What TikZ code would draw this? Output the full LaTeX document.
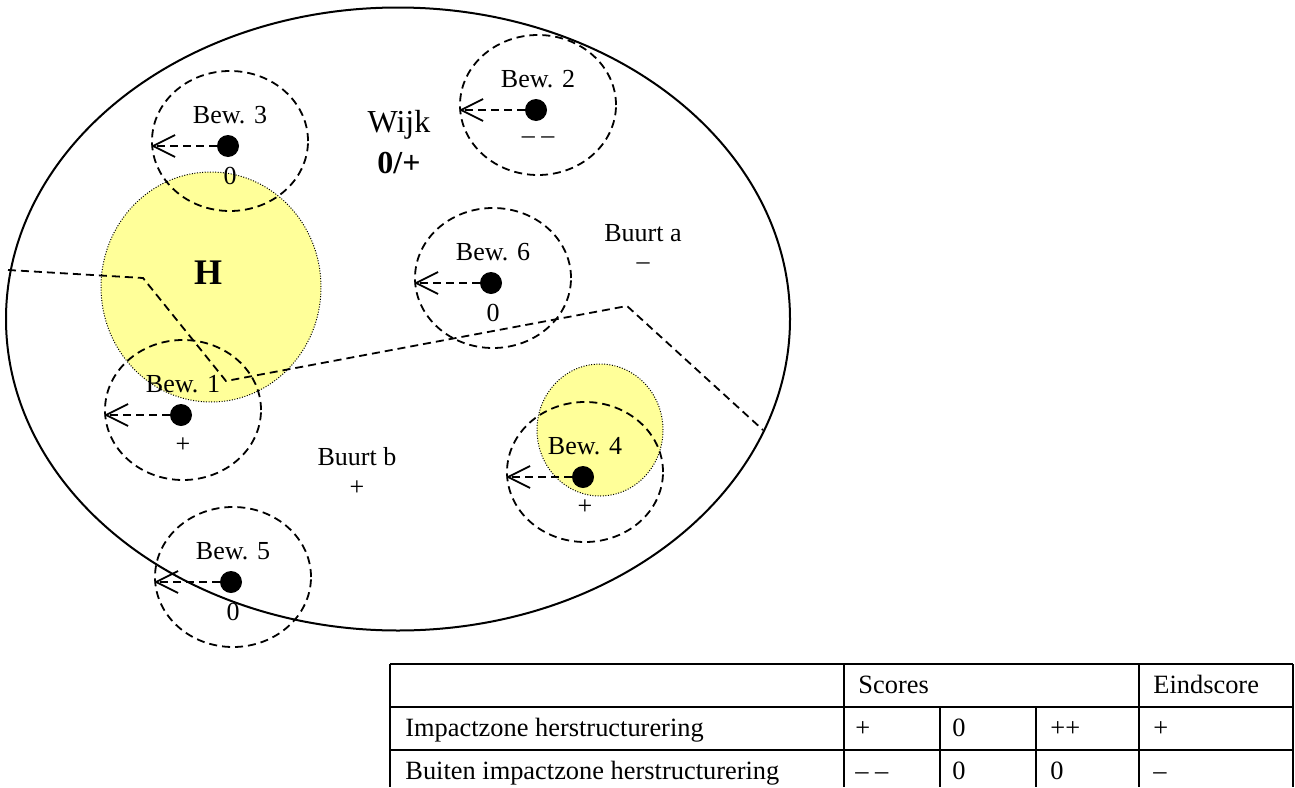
\documentclass[tikz,border=0pt]{standalone}
\usepackage{fontspec}
\setmainfont{Liberation Serif}
\usetikzlibrary{shapes.geometric,arrows.meta}
\definecolor{hotyellow}{RGB}{255,255,153}
\begin{document}
\begin{tikzpicture}[x=0.5pt,y=-0.5pt,
  zone/.style={ellipse, draw, line width=0.9pt, dash pattern=on 4pt off 2.5pt,
    minimum width=78pt, minimum height=70pt, inner sep=0pt},
  resident/.style={circle, fill=black, minimum size=11pt, inner sep=0pt},
  lbl/.style={font=\fontsize{13}{15}\selectfont, inner sep=0pt},
  hotspot/.style={ellipse, fill=hotyellow, draw, line width=0.5pt,
    dash pattern=on 0.5pt off 0.8pt, inner sep=0pt},
  pointer/.style={line width=0.9pt, dash pattern=on 4pt off 2.5pt,
    -{Straight Barb[length=11pt,width=11pt]}},
  boundary/.style={line width=0.9pt, dash pattern=on 4pt off 2.5pt},
  grid/.style={line width=1pt},
  cell/.style={font=\fontsize{13.2}{15}\selectfont, inner sep=0pt, anchor=base west},
]
\useasboundingbox (0,0) rectangle (1295,787);

% restructuring hotspots
\node[hotspot, minimum width=110pt, minimum height=115pt] (hotH) at (211,287) {};
\node[hotspot, minimum width=63pt, minimum height=66pt] (hot4) at (600,430) {};

% district outline
\node[ellipse, draw, line width=1pt, minimum width=392pt, minimum height=311.5pt,
  inner sep=0pt] (wijk) at (398,319) {};

% neighbourhood boundary
\coordinate (b0) at (8,270);
\coordinate (b1) at (143,278);
\coordinate (b2) at (226,381);
\coordinate (b3) at (627,306);
\coordinate (b4) at (763,430);
\draw[boundary] (b0) -- (b1) -- (b2) -- (b3) -- (b4);

% residents with their zones
\foreach \n/\cx/\cy/\s in {3/230/141/0, 2/538/105/{– –}, 6/493/278/0,
                           1/183/410/+, 4/585/472/+, 5/233/577/0} {
  \node[zone] (zone\n) at (\cx,\cy) {};
  \node[resident] (res\n) at (\cx-2,\cy+5) {};
  \node[lbl] (name\n) at (\cx,\cy-26) {Bew. \n};
  \node[lbl] (score\n) at (\cx,\cy+35) {\s};
  \draw[pointer] (res\n) -- (res\n -| zone\n.west);
}

% area labels
\node[inner sep=0pt, font=\fontsize{16}{18}\selectfont] (wijklbl) at (399,125) {Wijk};
\node[inner sep=0pt, font=\fontsize{16}{18}\selectfont\bfseries] (wijkscore) at (399,163) {0/+};
\node[inner sep=0pt, font=\fontsize{18}{20}\selectfont\bfseries] (hlbl) at (208,273) {H};
\node[lbl] (buurta) at (643,233) {Buurt a};
\node[lbl] (buurtascore) at (643,266) {–};
\node[lbl] (buurtb) at (357,457) {Buurt b};
\node[lbl] (buurtbscore) at (357,488) {+};

% score table
\draw[grid] (390,664) -- (1293,664);
\draw[grid] (390,707) -- (1293,707);
\draw[grid] (390,750) -- (1293,750);
\foreach \x in {390,844,1139,1293} \draw[grid] (\x,664) -- (\x,787);
\foreach \x in {940,1036} \draw[grid] (\x,707) -- (\x,787);

\node[cell] (hdscores) at (858,693) {Scores};
\node[cell] (hdeind) at (1153,693) {Eindscore};
\node[cell] (rowa) at (405,736) {Impactzone herstructurering};
\node[cell] (rowa1) at (855,736) {+};
\node[cell] (rowa2) at (952,736) {0};
\node[cell] (rowa3) at (1050,736) {++};
\node[cell] (rowae) at (1153,736) {+};
\node[cell] (rowb) at (405,779) {Buiten impactzone herstructurering};
\node[cell] (rowb1) at (855,779) {– –};
\node[cell] (rowb2) at (952,779) {0};
\node[cell] (rowb3) at (1050,779) {0};
\node[cell] (rowbe) at (1153,779) {–};
\end{tikzpicture}
\end{document}
